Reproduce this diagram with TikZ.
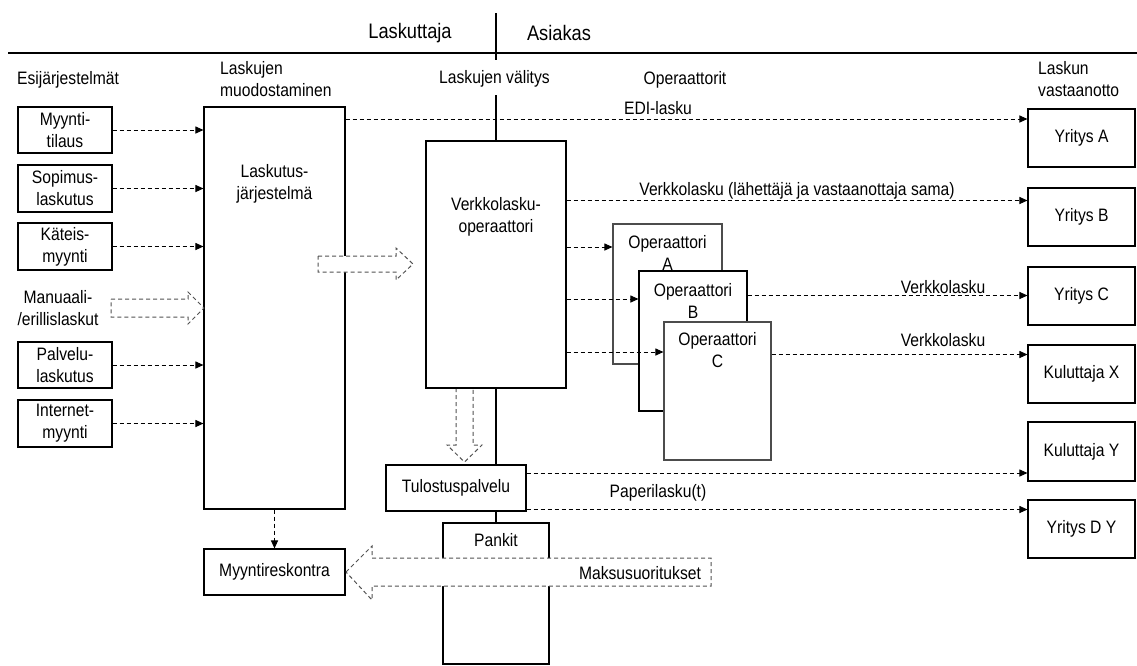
\documentclass[tikz,border=0pt]{standalone}
\usepackage{fontspec}
\setmainfont{Liberation Sans}[FakeStretch=0.87]
\usetikzlibrary{arrows.meta}
\newcommand\nf{\fontsize{18}{22}\selectfont}
\newcommand\lgf{\fontsize{21}{25}\selectfont}
\tikzset{
  box/.style={draw, line width=1.1pt, fill=white, inner sep=0pt, align=center, font=\nf},
  txt/.style={inner sep=0pt, align=center, font=\nf},
  conn/.style={draw, dash pattern=on 4pt off 3pt, line width=1pt, -{Triangle[length=8pt,width=7pt]}},
  fat/.style={draw=black!68, dash pattern=on 4pt off 3pt, line width=1pt, fill=white},
  divider/.style={line width=2pt},
}
\begin{document}
\begin{tikzpicture}[x=1pt,y=-1pt]
\useasboundingbox (0,0) rectangle (1137,665);
% divider lines
\coordinate (tl) at (8,53);
\coordinate (tr) at (1137,53);
\draw[divider] (tl) -- (tr);
\coordinate (v1) at (496,13);
\coordinate (v2) at (496,60);
\coordinate (v3) at (496,95);
\coordinate (v4) at (496,665);
\draw[divider] (v1) -- (v2);
\draw[divider] (v3) -- (v4);
% header labels
\node[txt, font=\lgf] (laskuttaja) at (410,33) {Laskuttaja};
\node[txt, font=\lgf] (asiakas) at (559,33) {Asiakas};
\node[txt] (esij) at (68,80) {Esijärjestelmät};
\node[txt, align=left, anchor=west] (muod) at (220,79.5) {Laskujen\\muodostaminen};
\node[txt] (valitys) at (494.5,79) {Laskujen välitys};
\node[txt] (operaattorit) at (685,80) {Operaattorit};
\node[txt, align=left, anchor=west] (vastaanotto) at (1038,79) {Laskun\\vastaanotto};
% left source boxes
\node[box, minimum width=94pt, minimum height=46pt] (my) at (65,130) {Myynti-\\tilaus};
\node[box, minimum width=94pt, minimum height=47pt] (sop) at (65,188.5) {Sopimus-\\laskutus};
\node[box, minimum width=94pt, minimum height=47pt] (kat) at (65,246.5) {Käteis-\\myynti};
\node[txt] (man) at (58,308) {Manuaali-\\/erillislaskut};
\node[box, minimum width=94pt, minimum height=46pt] (pal) at (65,365) {Palvelu-\\laskutus};
\node[box, minimum width=94pt, minimum height=47pt] (int) at (65,423.5) {Internet-\\myynti};
% billing system
\node[box, minimum width=141pt, minimum height=402pt] (lask) at (274.5,308) {};
\node[txt] (lasktxt) at (274.5,183.5) {Laskutus-\\järjestelmä};
\node[box, minimum width=141pt, minimum height=46pt] (myr) at (274.5,572) {Myyntireskontra};
% down block arrow (behind box edge)
\draw[fat] (456,388) -- (456,445) -- (447,445) -- (464.5,462) -- (482,445) -- (473,445) -- (473,388);
% network operator
\node[box, minimum width=140pt, minimum height=247pt] (verk) at (496,264.5) {};
\node[txt] (verktxt) at (496,217) {Verkkolasku-\\operaattori};
% operators
\node[box, draw=black!70, minimum width=109pt, minimum height=140pt] (opA) at (667.5,294) {};
\node[txt] (opAtxt) at (667.5,253) {Operaattori\\A};
\node[box, minimum width=108pt, minimum height=140pt] (opB) at (693,341) {};
\node[txt] (opBtxt) at (693,300.5) {Operaattori\\B};
\node[box, draw=black!70, minimum width=107pt, minimum height=138pt] (opC) at (717.5,391) {};
\node[txt] (opCtxt) at (717.5,350) {Operaattori\\C};
% print service and banks
\node[box, minimum width=140pt, minimum height=46pt] (tul) at (456,488) {Tulostuspalvelu};
\node[box, minimum width=106pt, minimum height=141pt] (pan) at (496,593.5) {};
\node[txt] (pantxt) at (496,540) {Pankit};
% receivers
\node[box, minimum width=107pt, minimum height=58pt] (yA) at (1081.5,138) {Yritys A};
\node[box, minimum width=107pt, minimum height=58pt] (yB) at (1081.5,217) {Yritys B};
\node[box, minimum width=107pt, minimum height=58pt] (yC) at (1081.5,296) {Yritys C};
\node[box, minimum width=107pt, minimum height=58pt] (kX) at (1081.5,374) {Kuluttaja X};
\node[box, minimum width=107pt, minimum height=59pt] (kY) at (1081.5,451.5) {Kuluttaja Y};
\node[box, minimum width=107pt, minimum height=58pt] (yD) at (1081.5,529) {Yritys D Y};
% block arrows
\draw[fat] (111,299) -- (188,299) -- (188,292) -- (204,308) -- (188,324) -- (188,317) -- (111,317) -- cycle;
\draw[fat] (318,256) -- (396,256) -- (396,248) -- (413,264) -- (396,280) -- (396,272) -- (318,272) -- cycle;
\draw[fat] (346,572) -- (372,546) -- (372,558) -- (711,558) -- (711,586) -- (372,586) -- (372,600) -- cycle;
\node[txt] (maksu) at (640,573) {Maksusuoritukset};
% helper heights
\coordinate (hEDI) at (0,119);
\coordinate (hB) at (0,200.5);
\coordinate (hA) at (0,247);
\coordinate (hBB) at (0,299);
\coordinate (hC) at (0,352);
\coordinate (hYC) at (0,295.5);
\coordinate (hKX) at (0,354.5);
\coordinate (hKY) at (0,473);
\coordinate (hYD) at (0,509.5);
% connectors
\draw[conn] (my.east) -- (my.east -| lask.west);
\draw[conn] (sop.east) -- (sop.east -| lask.west);
\draw[conn] (kat.east) -- (kat.east -| lask.west);
\draw[conn] (pal.east) -- (pal.east -| lask.west);
\draw[conn] (int.east) -- (int.east -| lask.west);
\draw[conn] (lask.east |- hEDI) -- (yA.west |- hEDI);
\draw[conn] (verk.east |- hB) -- (yB.west |- hB);
\draw[conn] (verk.east |- hA) -- (opA.west |- hA);
\draw[conn] (verk.east |- hBB) -- (opB.west |- hBB);
\draw[conn] (verk.east |- hC) -- (opC.west |- hC);
\draw[conn] (opB.east |- hYC) -- (yC.west |- hYC);
\draw[conn] (opC.east |- hKX) -- (kX.west |- hKX);
\draw[conn] (tul.east |- hKY) -- (kY.west |- hKY);
\draw[conn] (tul.east |- hYD) -- (yD.west |- hYD);
\draw[conn] (lask.south -| myr.north) -- (myr.north);
% connector labels
\node[txt] (edil) at (658,108) {EDI-lasku};
\node[txt] (samal) at (797,191) {Verkkolasku (lähettäjä ja vastaanottaja sama)};
\node[txt] (vl1) at (943,287) {Verkkolasku};
\node[txt] (vl2) at (943,340) {Verkkolasku};
\node[txt] (pap) at (658,493) {Paperilasku(t)};
\end{tikzpicture}
\end{document}
